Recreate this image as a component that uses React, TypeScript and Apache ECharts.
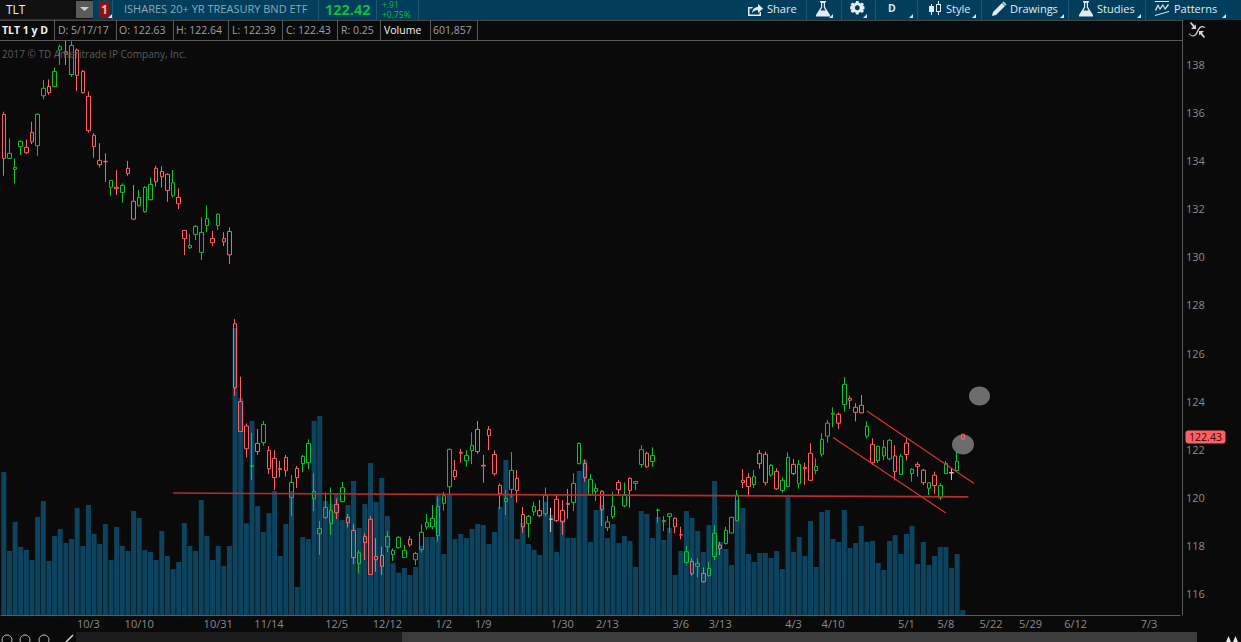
import React, { useEffect, useRef } from "react";
import * as echarts from "echarts";

// [open, close, low, high]
const candles: number[][] = [
[135.91,134.08,133.36,136.02],[134.08,134.29,134.08,134.91],[133.63,133.71,133.04,134.08],[134.57,134.79,134.22,134.84],[134.54,134.32,134.26,134.87],
[135.16,134.77,134.68,135.60],[134.61,135.91,134.19,135.95],[136.68,136.99,136.53,137.33],[137.07,136.81,136.73,137.36],[137.06,137.69,137.03,137.86],
[138.58,138.72,137.97,138.81],[138.51,138.41,137.96,138.95],[137.56,138.77,137.47,138.95],[138.58,137.53,136.88,138.65],[137.69,136.81,136.77,137.75],
[136.66,135.23,135.15,136.86],[135.04,134.57,134.11,135.12],[134.00,133.82,133.70,134.71],[133.96,133.94,133.11,134.29],[132.88,133.17,132.53,133.18],
[132.88,132.82,132.56,133.60],[132.67,132.96,132.24,133.04],[133.67,133.45,133.36,133.97],[132.30,131.56,131.54,132.98],[132.12,132.46,132.08,132.77],
[131.87,132.88,131.83,132.93],[132.37,133.00,132.33,133.29],[133.67,133.11,132.91,133.78],[133.54,133.32,132.87,133.76],[133.42,132.75,132.28,133.46],
[132.53,133.07,132.46,133.60],[132.46,132.20,131.98,132.84],[131.09,130.75,130.07,131.11],[130.37,130.47,130.33,130.94],[130.93,131.26,130.69,131.31],
[130.18,131.01,129.86,131.63],[131.30,131.58,131.02,132.13],[130.76,130.58,130.44,131.07],[131.30,131.76,131.11,131.80],[130.75,130.62,130.44,131.02],
[131.05,130.08,129.70,131.22],[127.22,124.56,124.22,127.41],[123.99,122.74,122.74,125.02],[122.97,122.03,121.66,123.08],[121.30,121.32,120.73,122.69],
[122.25,121.91,121.77,122.85],[122.28,123.04,122.15,123.18],[121.96,121.20,120.98,122.14],[121.63,120.83,120.31,121.97],[121.20,121.17,120.84,121.52],
[121.67,121.12,120.87,121.77],[120.01,120.63,119.23,120.94],[121.21,120.83,120.40,121.31],[121.41,121.71,121.06,121.77],[121.45,122.25,121.19,122.42],
[119.95,120.26,119.44,121.01],[118.50,118.72,117.62,119.03],[119.17,119.59,119.11,120.22],[118.92,119.46,118.45,120.42],[119.72,119.37,119.11,119.97],
[119.83,120.41,119.83,120.65],[119.18,118.96,118.76,119.32],[118.64,117.51,117.24,118.90],[117.27,117.71,116.85,117.82],[118.39,118.13,117.41,118.52],
[119.10,116.81,116.79,119.23],[117.56,117.42,116.92,118.32],[117.60,117.15,116.79,117.96],[117.96,118.39,117.74,118.61],[117.64,117.80,117.37,117.89],
[117.92,118.35,117.89,118.40],[117.52,117.81,117.51,118.03],[118.27,118.04,117.96,118.40],[117.42,117.68,117.20,117.75],[117.84,118.56,117.71,118.89],
[118.78,118.97,118.68,119.32],[118.79,119.14,118.68,119.69],[118.42,119.64,118.17,120.04],[119.76,120.08,119.46,120.24],[120.45,122.00,120.11,122.04],
[121.13,120.87,120.73,121.56],[121.88,121.84,121.45,122.02],[121.53,121.75,121.28,121.97],[121.95,122.17,121.39,122.71],[122.83,121.91,121.82,123.18],
[121.34,121.31,120.62,121.77],[122.83,122.58,121.97,122.97],[121.79,120.99,120.90,121.96],[120.51,120.16,119.53,120.59],[119.84,119.97,119.28,120.31],
[120.34,121.13,120.00,121.89],[120.80,120.29,119.79,121.14],[119.30,118.79,118.54,119.61],[118.92,119.22,118.34,119.28],[119.41,119.64,119.25,119.83],
[119.46,119.25,119.18,119.90],[119.33,120.09,119.23,120.42],[119.11,119.10,118.57,119.58],[119.93,119.04,118.99,120.15],[119.47,119.00,118.45,119.90],
[119.76,119.72,119.12,120.36],[119.80,120.59,119.44,121.01],[121.41,122.25,121.39,122.29],[121.42,120.83,120.66,121.59],[120.12,120.76,120.11,120.98],
[120.26,120.38,119.86,120.59],[120.26,119.50,118.82,120.31],[118.75,118.99,118.61,119.23],[119.21,119.64,119.12,120.22],[120.63,120.33,120.08,120.73],
[119.66,120.12,119.59,120.63],[120.80,120.30,119.58,120.84],[120.59,120.67,120.31,120.69],[121.37,121.99,121.24,122.17],[121.84,121.28,121.24,121.91],
[121.50,121.75,121.28,122.09],[119.47,119.48,118.96,119.55],[119.00,119.05,118.61,119.23],[119.22,119.33,118.54,119.35],[119.14,118.79,118.52,119.18],
[118.46,118.45,118.27,118.79],[117.31,117.75,117.23,117.99],[117.35,116.84,116.76,117.48],[117.15,117.27,116.69,117.48],[116.85,116.51,116.47,117.10],
[116.76,117.06,116.72,117.34],[117.55,118.52,117.41,118.86],[118.03,117.89,117.62,118.17],[118.09,118.64,118.06,118.79],[118.53,119.18,118.52,119.21],
[119.04,120.11,119.00,120.31],[120.72,120.62,120.40,121.18],[120.84,120.46,120.04,121.01],[120.54,120.87,120.40,121.15],[121.84,121.41,121.20,121.98],
[121.80,120.62,120.50,121.91],[120.94,121.34,120.87,121.40],[121.09,120.36,120.32,121.22],[120.30,120.72,120.21,120.84],[120.46,121.67,120.43,121.88],
[121.38,121.00,120.94,121.61],[120.58,121.38,120.37,121.56],[121.25,121.20,120.53,121.45],[121.84,120.72,120.69,122.26],[121.12,121.29,120.98,121.63],
[121.80,122.42,121.70,122.67],[122.55,123.09,122.28,123.22],[123.46,123.50,122.92,123.75],[123.46,123.09,122.85,123.54],[123.86,124.70,123.57,125.00],
[124.12,124.04,123.68,124.23],[123.75,123.54,123.16,123.92],[123.83,123.52,123.50,124.26],[122.55,122.96,122.45,123.16],[122.21,121.45,121.36,122.46],
[121.54,122.13,121.43,122.16],[121.73,122.09,121.56,122.39],[121.61,122.38,121.54,122.44],[121.73,121.08,120.71,122.17],[120.96,121.72,120.96,121.81],
[122.26,121.79,121.54,122.46],[121.00,121.18,120.66,121.22],[121.38,121.30,120.87,121.48],[121.14,120.62,120.53,121.19],[120.39,120.62,120.11,120.64],
[120.93,120.50,120.15,121.08],[119.99,120.50,119.90,120.60],[121.00,121.41,121.00,121.52],[121.04,121.02,120.73,121.22],[121.12,121.51,121.11,121.91],
[122.63,122.43,122.39,122.64],
];
const grayCandles = [97, 168];

// volume, millions of shares
const volumes = [
17.88,8.00,11.63,8.50,8.13,6.88,12.25,14.25,6.75,9.88,10.75,9.00,9.50,13.38,8.63,13.75,10.13,8.88,11.38,6.88,
11.00,8.63,8.00,13.00,12.13,8.13,7.88,6.88,10.50,7.38,5.75,6.63,11.50,8.63,8.00,14.38,9.88,6.88,8.63,6.13,
8.63,35.88,27.13,11.46,24.25,13.63,10.38,12.75,15.50,7.38,11.38,15.50,3.50,9.75,9.50,24.25,24.88,14.25,13.88,15.25,
11.88,13.75,16.75,10.88,13.88,19.00,14.13,17.13,12.38,6.46,5.29,5.88,5.00,6.00,8.63,9.75,9.75,15.00,7.63,15.00,
9.50,10.13,9.63,10.75,11.38,11.25,8.88,10.38,13.50,19.38,15.00,9.50,11.50,8.88,8.13,7.50,14.13,12.50,7.88,11.88,
9.63,9.63,18.00,19.38,9.13,13.13,13.75,9.63,11.38,9.00,9.88,9.25,6.00,13.00,12.63,9.63,12.25,9.38,10.88,5.00,
8.00,13.00,12.13,10.50,7.88,11.25,16.75,9.13,8.25,6.25,14.38,13.38,7.63,6.63,7.75,7.75,7.13,8.00,5.75,14.88,
7.88,9.75,7.38,11.75,6.00,12.88,13.13,9.50,9.13,13.13,8.38,9.00,11.13,9.13,9.25,6.50,5.63,9.25,10.00,7.63,
10.13,11.13,6.38,9.13,6.25,7.38,8.50,8.50,5.88,7.63,0.60,
];

const tickIndex = [15,24,38,47,59,68,78,85,99,107,120,127,140,147,160,167,175,182,190,203];
const tickLabels = ["10/3","10/10","10/31","11/14","12/5","12/12","1/2","1/9","1/30","2/13","3/6","3/13","4/3","4/10","5/1","5/8","5/22","5/29","6/12","7/3"];
const priceTicks = [116,118,120,122,124,126,128,130,132,134,136,138];
const slotCount = 209;

const supportLine = [[30,120.19],[171,120.03]];
const channelUpper = [[153,123.60],[172,120.59]];
const channelLower = [[147,122.50],[167,119.36]];

const quoteCells: [number, string, string, string][] = [
  [2,"TLT 1 y D","#f2f2f2","bold"],[58,"D: 5/17/17","#a0a0a0","normal"],[119,"O: 122.63","#a0a0a0","normal"],
  [176,"H: 122.64","#a0a0a0","normal"],[232,"L: 122.39","#a0a0a0","normal"],[286,"C: 122.43","#a0a0a0","normal"],
  [341,"R: 0.25","#a0a0a0","normal"],[384,"Volume","#f2f2f2","normal"],[433,"601,857","#a0a0a0","normal"],
];
const quoteSeparators = [54,116,173,228,282,337,380,430,477];
const toolbarSeparators = [112,318,376,418,806,841,875,917,981,1068,1145];
const toolbarLabels: [number, string][] = [[767,"Share"],[946,"Style"],[1010,"Drawings"],[1097,"Studies"],[1174,"Patterns"]];

const FONT = '"Open Sans", "Noto Sans", sans-serif';
const BG = "#0a0a0a";
const BAR = "#003e5c";
const RED = "#ff6060";
const GREEN = "#10c036";

echarts.graphic.registerShape("shareIcon", echarts.graphic.extendPath("M1 6 L1 15 L14 15 L14 11 L12.5 11 L12.5 13.5 L2.5 13.5 L2.5 7.5 L5 7.5 L6 6 Z M5 12 C5.5 8 8 6 11 6 L11 3 L16 7.5 L11 12 L11 9 C8.5 9 6.5 10 5 12 Z", {}));
echarts.graphic.registerShape("flaskIcon", echarts.graphic.extendPath("M4 0 L10 0 L10 1.5 L9 1.5 L9 6 L14 14 L14 15.5 L0 15.5 L0 14 L5 6 L5 1.5 L4 1.5 Z M6.2 2 L6.2 6.5 L4.5 9.5 L9.5 9.5 L7.8 6.5 L7.8 2 Z", {}));
echarts.graphic.registerShape("gearIcon", echarts.graphic.extendPath("M5.5 0 L8.5 0 L8.9 2 L10.5 2.7 L12.3 1.6 L14.4 3.7 L13.3 5.5 L14 5.5 L15 6 L15 9 L14 9.5 L13.3 9.5 L14.4 11.3 L12.3 13.4 L10.5 12.3 L8.9 13 L8.5 15 L5.5 15 L5.1 13 L3.5 12.3 L1.7 13.4 L-0.4 11.3 L0.7 9.5 L0 9.5 L-1 9 L-1 6 L0 5.5 L0.7 5.5 L-0.4 3.7 L1.7 1.6 L3.5 2.7 L5.1 2 Z M7 4.8 A2.7 2.7 0 1 0 7.01 4.8 Z", {}));
echarts.graphic.registerShape("styleIcon", echarts.graphic.extendPath("M3 3 L4 3 L4 5 L6 5 L6 11 L4 11 L4 14 L3 14 L3 11 L1 11 L1 5 L3 5 Z M10 0 L11 0 L11 3 L13 3 L13 11 L11 11 L11 14 L10 14 L10 11 L8 11 L8 3 L10 3 Z M9 4 L9 10 L12 10 L12 4 Z", {}));
echarts.graphic.registerShape("pencilIcon", echarts.graphic.extendPath("M0 14 L1 10 L10 1 L13 4 L4 13 Z M10.5 0.5 L11.5 -0.5 L14.5 2.5 L13.5 3.5 Z", {}));
echarts.graphic.registerShape("patternIcon", echarts.graphic.extendPath("M0 0 L14 0 L14 1 L0 1 Z M0 9 L3 3 L5 7 L8 3 L10 7 L13 3 L14 4 L10 9 L8 5 L5 9 L3 5.5 L1 10 Z M0 14 L14 10 L14 11 L0 15 Z", {}));
echarts.graphic.registerShape("cornerIcon", echarts.graphic.extendPath("M0 11 C3 15 6 14 8 9 C10 4 13 3 16 5 L15.5 6 C13 4.5 11 5.5 9 10 C7 15 3 16 0 12 Z M2 0 L6 4 L7 2 L7 7 L2 7 L4 5 L1 1 Z M15 16 L11 12 L10 14 L10 9 L15 9 L13 11 L16 15 Z", {}));

const label = (x: number, y: number, text: string, fill: string, fontSize: number, fontWeight = "normal", align = "left") => ({
  type: "text", x, y, z: 30,
  style: { text, fill, font: `${fontWeight} ${fontSize}px ${FONT}`, textAlign: align, textVerticalAlign: "middle" },
});
const box = (x: number, y: number, width: number, height: number, fill: string, z = 20, r = 0) => ({
  type: "rect", z, shape: { x, y, width, height, r }, style: { fill },
});
const icon = (type: string, x: number, y: number, scale: number, fill: string) => ({
  type, x, y, scaleX: scale, scaleY: scale, z: 30, style: { fill },
});
const corner = (x: number, y: number) => ({
  type: "polygon", z: 30, shape: { points: [[x, y], [x - 4, y], [x, y - 4]] }, style: { fill: "#d8e2e8" },
});

export default function App() {
  const ref = useRef<HTMLDivElement>(null);
  useEffect(() => {
    document.body.style.margin = "0";
    document.body.style.background = BG;
    const chart = echarts.init(ref.current!, undefined, { renderer: "svg" });
    const categories = Array.from({ length: slotCount }, (_, i) => {
      const k = tickIndex.indexOf(i);
      return k >= 0 ? tickLabels[k] : "";
    });
    const candleData = candles.map((c, i) =>
      grayCandles.includes(i)
        ? { value: c, itemStyle: { color: "rgba(0,0,0,0)", color0: "rgba(0,0,0,0)", borderColor: "#c8c8c8", borderColor0: "#c8c8c8", borderColorDoji: "#c8c8c8" } }
        : c
    );
    const trend = (data: number[][], color: string, width: number) => ({
      type: "line", data, xAxisIndex: 0, yAxisIndex: 0, symbol: "none", z: 5, silent: true,
      lineStyle: { color, width }, connectNulls: true,
    });
    const graphics: any[] = [
      box(0, 0, 1241, 20, BAR),
      box(0, 20, 1241, 20, BG),
      box(0, 20, 1182, 0.8, "#5a5a5a", 21),
      box(0, 40, 1182, 1, "#5a5a5a", 21),
      box(0, 0, 93, 19, "#101010", 22),
      box(76, 1, 17, 17, "#5a5a5a", 23),
      { type: "polygon", z: 30, shape: { points: [[80, 7], [89, 7], [84.5, 11]] }, style: { fill: "#cfcfcf" } },
      box(99, 1, 11, 17, "#8a1212", 23),
      label(104.5, 9, "1", "#e9b6b6", 12, "bold", "center"),
      corner(112, 18),
      label(6, 9, "TLT", "#e8eef2", 12),
      label(124, 8.5, "ISHARES 20+ YR TREASURY BND ETF", "#8ea9b8", 11),
      label(325, 9.5, "122.42", "#13bb3e", 14.5, "bold"),
      label(382, 4.5, "+.91", "#13bb3e", 8.5),
      label(382, 14.5, "+0.75%", "#13bb3e", 8.5),
      label(892, 8, "D", "#dfe7ec", 10.5, "bold", "center"),
      icon("shareIcon", 747, 1, 1, "#e4ebef"),
      icon("flaskIcon", 816, 1, 1, "#e4ebef"),
      icon("gearIcon", 851, 1, 0.9, "#e4ebef"),
      icon("styleIcon", 928, 1, 1, "#e4ebef"),
      icon("pencilIcon", 992, 2, 1, "#e4ebef"),
      icon("flaskIcon", 1079, 1, 1, "#e4ebef"),
      icon("patternIcon", 1155, 1, 1, "#e4ebef"),
      ...[833, 867, 913, 976, 1064, 1141, 1226].map((x) => corner(x, 18)),
      icon("cornerIcon", 1189, 22, 1, "#d5d5d5"),
      box(1182, 20, 1, 595.5, "#5a5a5a", 21),
      box(0, 632, 76, 10, BG, 19),
      box(76, 632, 326, 10, "#1c1c1c", 19),
      box(402, 632, 795, 10, "#3c3c3c", 19),
      ...[7, 25, 44].map((cx) => ({ type: "circle", z: 30, shape: { cx, cy: 640, r: 5 }, style: { fill: "none", stroke: "#c8c8c8", lineWidth: 1 } })),
      { type: "line", z: 30, shape: { x1: 66, y1: 642, x2: 73, y2: 635 }, style: { stroke: "#d8d8d8", lineWidth: 1.5 } },
      { type: "polygon", z: 30, shape: { points: [[1226, 642], [1231, 642], [1228.5, 636]] }, style: { fill: "#e8e8e8" } },
      { type: "polygon", z: 30, shape: { points: [[1233, 642], [1238, 642], [1235.5, 636]] }, style: { fill: "#e8e8e8" } },
      ...quoteSeparators.map((x) => box(x, 20, 1, 20, "#5a5a5a", 21)),
      ...toolbarSeparators.map((x) => box(x, 0, 1, 20, "#1f5673", 21)),
      ...quoteCells.map(([x, text, color, weight]) => label(x, 30, text, color, 10.5, weight)),
      ...toolbarLabels.map(([x, text]) => label(x, 8, text, "#e4ebef", 11)),
      label(2, 53.5, "2017 © TD Ameritrade IP Company, Inc.", "#5c5c5c", 10),
      { type: "ellipse", z: 2, shape: { cx: 979.5, cy: 396, rx: 10.5, ry: 9.5 }, style: { fill: "#6d6d6d" } },
      { type: "ellipse", z: 2, shape: { cx: 963, cy: 444.5, rx: 11, ry: 10 }, style: { fill: "#6d6d6d" } },
      box(1185.5, 430.5, 40, 13, "#ff6060", 26, 3),
      label(1205.5, 437, "122.43", "#3a0808", 10.5, "normal", "center"),
    ];
    chart.setOption({
      animation: false,
      backgroundColor: BG,
      textStyle: { fontFamily: FONT },
      grid: { left: 1, top: 41, width: 1179, height: 574 },
      xAxis: {
        type: "category",
        data: categories,
        boundaryGap: true,
        axisLine: { show: true, lineStyle: { color: "#5a5a5a", width: 1 } },
        axisTick: { show: false },
        splitLine: { show: false },
        axisLabel: {
          interval: (_i: number, v: string) => v !== "",
          color: "#8a8a8a", fontSize: 11, fontFamily: FONT, margin: 3, hideOverlap: false,
        },
      },
      yAxis: [
        {
          type: "value", position: "right", min: 115.127, max: 138.955, scale: true,
          axisLine: { show: false }, axisTick: { show: false }, splitLine: { show: false },
          axisLabel: { customValues: priceTicks, color: "#8a8a8a", fontSize: 11, fontFamily: FONT, margin: 6, showMinLabel: true, showMaxLabel: true },
        },
        { type: "value", min: 0, max: 71.75, show: false, splitLine: { show: false } },
      ],
      series: [
        {
          type: "bar", data: volumes, xAxisIndex: 0, yAxisIndex: 1, barWidth: 5, z: 1, silent: true,
          itemStyle: { color: "#0c4460" },
        },
        {
          type: "candlestick", data: candleData, xAxisIndex: 0, yAxisIndex: 0, barWidth: 4, z: 3, clip: true, silent: true,
          itemStyle: { color: "rgba(0,0,0,0)", color0: "rgba(0,0,0,0)", borderColor: GREEN, borderColor0: RED, borderColorDoji: GREEN, borderWidth: 1 },
        },
        trend(supportLine, "#b92c2c", 1.6),
        trend(channelUpper, "#d6332f", 1.2),
        trend(channelLower, "#d6332f", 1.2),
      ],
      graphic: { elements: graphics },
    });
    return () => chart.dispose();
  }, []);
  return <div ref={ref} style={{ width: 1241, height: 642, overflow: "hidden" }} />;
}
